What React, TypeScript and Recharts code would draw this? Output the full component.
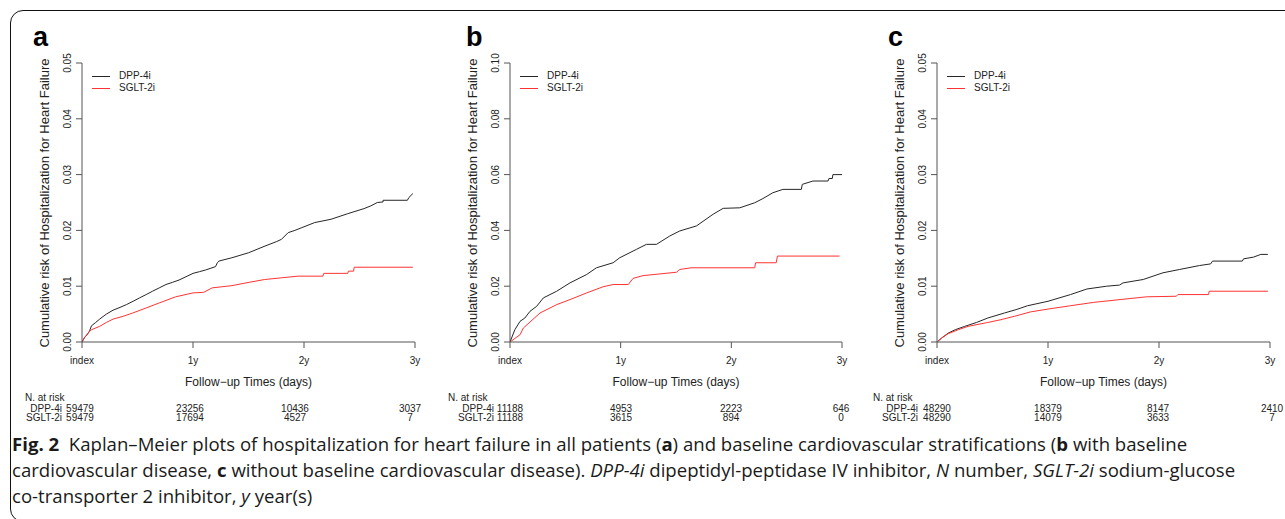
import React from 'react';
import { LineChart, Line, XAxis, YAxis } from 'recharts';

type Pt = { t: number; v: number };
const pts = (arr: number[][]): Pt[] => arr.map(([t, v]) => ({ t, v }));

// follow-up time in days, ticks at index / 1y / 2y / 3y
const timeTicks = [0, 365, 730, 1095];
const timeLabels = ['index', '1y', '2y', '3y'];
const seriesNames = ['DPP-4i', 'SGLT-2i'];
const seriesColors = ['#262626', '#ff3333'];

const aTicks = [0, 0.01, 0.02, 0.03, 0.04, 0.05];
const bTicks = [0, 0.02, 0.04, 0.06, 0.08, 0.1];
const cTicks = [0, 0.01, 0.02, 0.03, 0.04, 0.05];

// a: all patients
const aDpp = pts([[0, 0], [8, 0.0008], [17, 0.0013], [25, 0.002], [31, 0.0029], [45, 0.0035], [58, 0.0041], [80, 0.005], [102, 0.0057], [125, 0.0062], [146, 0.0067], [168, 0.0073], [189, 0.0079], [211, 0.0085], [232, 0.0091], [254, 0.0097], [276, 0.0103], [298, 0.0107], [319, 0.0111], [342, 0.0117], [365, 0.0123], [386, 0.0126], [406, 0.0129], [439, 0.0135], [445, 0.0142], [450, 0.0145], [493, 0.0151], [548, 0.016], [602, 0.0172], [640, 0.018], [656, 0.0184], [678, 0.0196], [700, 0.02], [723, 0.0205], [765, 0.0214], [819, 0.022], [874, 0.023], [927, 0.0239], [950, 0.0244], [971, 0.025], [990, 0.0251], [990, 0.0254], [1070, 0.0254], [1075, 0.0259], [1088, 0.0266]]);
const aSglt = pts([[0, 0], [10, 0.0009], [20, 0.0016], [31, 0.0022], [58, 0.0028], [80, 0.0035], [102, 0.0041], [135, 0.0046], [167, 0.0052], [211, 0.0061], [254, 0.007], [308, 0.0081], [365, 0.0088], [400, 0.0089], [428, 0.0097], [493, 0.0101], [550, 0.0107], [601, 0.0112], [655, 0.0115], [710, 0.0118], [792, 0.0118], [795, 0.0123], [874, 0.0123], [876, 0.0127], [893, 0.0127], [895, 0.0134], [1088, 0.0134]]);

// b: with baseline cardiovascular disease
const bDpp = pts([[0, 0], [16, 0.0044], [33, 0.0074], [49, 0.0086], [66, 0.011], [88, 0.0128], [110, 0.0158], [132, 0.017], [154, 0.0182], [198, 0.0212], [253, 0.0242], [285, 0.0266], [340, 0.0284], [362, 0.0302], [417, 0.0332], [450, 0.035], [483, 0.035], [527, 0.038], [560, 0.0398], [615, 0.0416], [670, 0.0458], [703, 0.0479], [758, 0.0481], [807, 0.0499], [834, 0.0514], [867, 0.0535], [900, 0.0547], [961, 0.0547], [964, 0.0565], [999, 0.0577], [1049, 0.0577], [1052, 0.0586], [1063, 0.0586], [1065, 0.06], [1095, 0.06]]);
const bSglt = pts([[0, 0], [33, 0.0026], [44, 0.005], [99, 0.0104], [154, 0.0134], [198, 0.0152], [253, 0.0176], [307, 0.0198], [340, 0.0206], [390, 0.0206], [406, 0.0228], [439, 0.0238], [494, 0.0244], [549, 0.025], [560, 0.026], [598, 0.0266], [807, 0.0266], [810, 0.0284], [878, 0.0284], [882, 0.0308], [1087, 0.0308]]);

// c: without baseline cardiovascular disease
const cDpp = pts([[0, 0], [15, 0.0007], [37, 0.0016], [60, 0.0022], [91, 0.0028], [130, 0.0035], [167, 0.0043], [222, 0.0052], [260, 0.0058], [298, 0.0065], [365, 0.0073], [439, 0.0085], [493, 0.0095], [558, 0.01], [600, 0.0102], [612, 0.0106], [678, 0.0112], [743, 0.0124], [798, 0.013], [863, 0.0137], [900, 0.014], [906, 0.0145], [1004, 0.0145], [1008, 0.0149], [1040, 0.0152], [1065, 0.0157], [1088, 0.0157]]);
const cSglt = pts([[0, 0], [15, 0.0007], [37, 0.0015], [70, 0.0022], [102, 0.0028], [167, 0.0035], [210, 0.004], [254, 0.0046], [308, 0.0054], [365, 0.0059], [439, 0.0065], [515, 0.0071], [602, 0.0076], [689, 0.0081], [787, 0.0082], [792, 0.0085], [893, 0.0085], [895, 0.0091], [1088, 0.0091]]);

// numbers at risk
const aRiskDpp = [59479, 23256, 10436, 3037];
const aRiskSglt = [59479, 17694, 4527, 7];
const bRiskDpp = [11188, 4953, 2223, 646];
const bRiskSglt = [11188, 3615, 894, 0];
const cRiskDpp = [48290, 18379, 8147, 2410];
const cRiskSglt = [48290, 14079, 3633, 7];

const R_FONT = '"Liberation Sans", Arial, Helvetica, sans-serif';
const AXIS = '#555';
const TXT = '#222';

const W = 430;
const H = 380;
const PLOT_TOP = 63;
const PLOT_BOTTOM = 342;

const YTick = (props: any) => {
  const { x, y, payload } = props;
  return (
    <text x={x} y={y} transform={`rotate(-90, ${x}, ${y})`} textAnchor="middle" fontSize={10} fill={TXT} fontFamily={R_FONT}>
      {Number(payload.value).toFixed(2)}
    </text>
  );
};

const XTick = (props: any) => {
  const { x, y, payload } = props;
  const i = timeTicks.indexOf(payload.value);
  return (
    <text x={x} y={y + 16} textAnchor="middle" fontSize={10} fill={TXT} fontFamily={R_FONT}>
      {timeLabels[i]}
    </text>
  );
};

const abs = (left: number, top: number, extra: React.CSSProperties = {}): React.CSSProperties => ({
  position: 'absolute',
  left,
  top,
  whiteSpace: 'nowrap',
  fontFamily: R_FONT,
  color: TXT,
  ...extra,
});

interface PanelProps {
  offset: number;
  plotLeft: number;
  plotRight: number;
  letter: string;
  letterX: number;
  yTicks: number[];
  dpp: Pt[];
  sglt: Pt[];
  riskDpp: number[];
  riskSglt: number[];
  riskCols: number[];
  labelRight: number;
  nX: number;
}

const Panel: React.FC<PanelProps> = (p) => {
  const pl = p.offset + p.plotLeft;
  const pr = p.offset + p.plotRight;
  const series = [p.dpp, p.sglt];
  const risk = [p.riskDpp, p.riskSglt];
  return (
    <>
      <div style={abs(p.offset, 0)}>
        <LineChart
          width={W}
          height={H}
          margin={{ top: PLOT_TOP, right: W - p.plotRight, bottom: H - PLOT_BOTTOM - 30, left: p.plotLeft - 40 }}
        >
          <XAxis
            dataKey="t"
            type="number"
            domain={[0, 1095]}
            ticks={timeTicks}
            interval={0}
            height={30}
            tickSize={6}
            tickMargin={0}
            tick={<XTick />}
            stroke={AXIS}
            allowDataOverflow
          />
          <YAxis
            type="number"
            domain={[0, p.yTicks[p.yTicks.length - 1]]}
            ticks={p.yTicks}
            interval={0}
            width={40}
            tickSize={6}
            tickMargin={5}
            tick={<YTick />}
            stroke={AXIS}
            allowDataOverflow
          />
          {series.map((d, i) => (
            <Line
              key={seriesNames[i]}
              data={d}
              dataKey="v"
              name={seriesNames[i]}
              type="linear"
              stroke={seriesColors[i]}
              strokeWidth={1}
              dot={false}
              activeDot={false}
              isAnimationActive={false}
            />
          ))}
        </LineChart>
      </div>

      <div style={abs(p.letterX, 24, { fontSize: 27, fontWeight: 700, lineHeight: '27px', color: '#000' })}>{p.letter}</div>

      <div
        style={abs(pl - 37, (PLOT_TOP + PLOT_BOTTOM) / 2, {
          fontSize: 13,
          lineHeight: '16px',
          transform: 'translate(-50%, -50%) rotate(-90deg)',
        })}
      >
        Cumulative risk of Hospitalization for Heart Failure
      </div>

      {seriesNames.map((n, i) => (
        <React.Fragment key={n}>
          <div style={abs(pl + 10, 76 + i * 12, { width: 18, height: 0, borderTop: `1px solid ${seriesColors[i]}` })} />
          <div style={abs(pl + 37, 76 + i * 12 - 6, { fontSize: 10, lineHeight: '12px' })}>{n}</div>
        </React.Fragment>
      ))}

      <div style={abs((pl + pr) / 2, 382, { fontSize: 12, lineHeight: '14px', transform: 'translate(-50%, -50%)' })}>
        Follow−up Times (days)
      </div>

      <div style={abs(p.nX, 392, { fontSize: 10, lineHeight: '12px' })}>N. at risk</div>
      {seriesNames.map((n, i) => (
        <React.Fragment key={n}>
          <div style={abs(p.labelRight, 403 + i * 8.5, { fontSize: 10, lineHeight: '12px', transform: 'translateX(-100%)' })}>{n}</div>
          {risk[i].map((v, j) => (
            <div
              key={j}
              style={abs(p.riskCols[j], 403 + i * 8.5, { fontSize: 10, lineHeight: '12px', transform: 'translateX(-50%)' })}
            >
              {v}
            </div>
          ))}
        </React.Fragment>
      ))}
    </>
  );
};

const CAP_FONT = '"Open Sans", "Noto Sans", sans-serif';

export default function App() {
  return (
    <div style={{ position: 'absolute', left: 0, top: 0, width: 1285, height: 519, overflow: 'hidden', background: '#fff' }}>
      <div
        style={{
          position: 'absolute',
          left: 10,
          top: 10,
          width: 1320,
          height: 512,
          border: '1.5px solid #111',
          borderRadius: 13,
          boxSizing: 'border-box',
        }}
      />
      <Panel offset={0} plotLeft={82} plotRight={415} letter="a" letterX={33} yTicks={aTicks} dpp={aDpp} sglt={aSglt}
        riskDpp={aRiskDpp} riskSglt={aRiskSglt} riskCols={[80, 190, 295, 410]} labelRight={62} nX={25} />
      <Panel offset={430} plotLeft={80} plotRight={412} letter="b" letterX={466} yTicks={bTicks} dpp={bDpp} sglt={bSglt}
        riskDpp={bRiskDpp} riskSglt={bRiskSglt} riskCols={[510, 621, 731, 841]} labelRight={494} nX={448} />
      <Panel offset={855} plotLeft={82} plotRight={415} letter="c" letterX={888} yTicks={cTicks} dpp={cDpp} sglt={cSglt}
        riskDpp={cRiskDpp} riskSglt={cRiskSglt} riskCols={[937, 1048, 1158, 1272]} labelRight={918} nX={873} />

      <div style={{ position: 'absolute', left: 12, top: 431, fontFamily: CAP_FONT, fontSize: 18.6, lineHeight: '26px', color: '#1a1a1a', whiteSpace: 'nowrap' }}>
        <div>
          <b>Fig. 2</b>&nbsp; Kaplan–Meier plots of hospitalization for heart failure in all patients (<b>a</b>) and baseline cardiovascular stratifications (<b>b</b> with baseline
        </div>
        <div>
          cardiovascular disease, <b>c</b> without baseline cardiovascular disease). <i>DPP-4i</i> dipeptidyl-peptidase IV inhibitor, <i>N</i> number, <i>SGLT-2i</i> sodium-glucose
        </div>
        <div>
          co-transporter 2 inhibitor, <i>y</i> year(s)
        </div>
      </div>
    </div>
  );
}
